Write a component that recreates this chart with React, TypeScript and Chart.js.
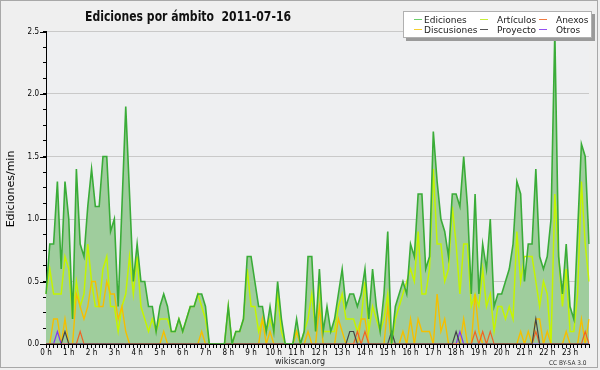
import React, { useEffect, useRef } from 'react';
import { Chart, registerables } from 'chart.js';

Chart.register(...registerables);

const TITLE = 'Ediciones por ámbito  2011-07-16';
const Y_TITLE = 'Ediciones/min';
const HOUR_LABELS = ['0 h','1 h','2 h','3 h','4 h','5 h','6 h','7 h','8 h','9 h','10 h','11 h','12 h','13 h','14 h','15 h','16 h','17 h','18 h','19 h','20 h','21 h','22 h','23 h'];
const SLOTS_PER_HOUR = 6;
const TIMES: string[] = [];
for (let h = 0; h < 24; h++) for (let m = 0; m < 60; m += 10) TIMES.push(`${String(h).padStart(2, '0')}:${String(m).padStart(2, '0')}`);

// 10-minute slots, edits per minute
const EDICIONES = [
  0.4,0.8,0.8,1.3,0.6,1.3,1.0,0.2,1.4,0.8,0.7,1.1,
  1.4,1.1,1.1,1.5,1.5,0.9,1.0,0.3,1.1,1.9,1.2,0.5,
  0.8,0.5,0.5,0.3,0.3,0.1,0.3,0.4,0.3,0.1,0.1,0.2,
  0.1,0.2,0.3,0.3,0.4,0.4,0.3,0,0,0,0,0,
  0.3,0,0.1,0.1,0.2,0.7,0.7,0.5,0.3,0.3,0.1,0.3,
  0.1,0.5,0.2,0,0,0,0.2,0,0.1,0.7,0.7,0.1,
  0.6,0.1,0.3,0.1,0.2,0.4,0.6,0.3,0.4,0.4,0.3,0.4,
  0.6,0.2,0.6,0.3,0.1,0.4,0.9,0,0.3,0.4,0.5,0.4,
  0.8,0.7,1.2,1.2,0.6,0.7,1.7,1.3,1.0,0.9,0.7,1.2,
  1.2,1.1,1.5,1.1,0.4,1.2,0.4,0.8,0.6,1.0,0.3,0.4,
  0.4,0.5,0.6,0.8,1.3,1.2,0.5,0.8,0.8,1.4,0.7,0.6,
  0.7,1.0,2.5,0.7,0.4,0.8,0.3,0.2,0.9,1.6,1.5,0.8,
];
const ARTICULOS = [
  0.4,0.6,0.4,0.4,0.4,0.7,0.6,0.2,0.5,0.3,0.4,0.8,
  0.5,0.3,0.3,0.6,0.7,0.3,0.3,0.1,0.3,0.4,0.7,0.4,
  0.7,0.3,0.2,0.1,0.2,0.1,0.2,0.2,0.2,0.1,0.1,0.2,
  0.1,0.2,0.3,0.3,0.4,0.3,0.2,0,0,0,0,0,
  0.3,0,0.1,0.1,0.2,0.6,0.3,0.3,0.1,0.2,0.1,0.2,
  0.1,0.4,0.1,0,0,0,0.1,0,0.1,0.2,0.4,0.1,
  0.5,0.1,0.1,0.1,0.1,0.3,0.4,0.2,0.2,0.2,0.1,0.2,
  0.5,0.1,0.3,0.2,0.1,0.2,0.4,0,0.2,0.3,0.4,0.5,
  0.6,0.5,0.9,0.4,0.4,0.6,1.4,0.8,0.8,0.5,0.6,1.1,
  0.8,0.4,0.8,0.8,0.3,0.4,0.3,0.6,0.3,0.4,0.1,0.3,
  0.3,0.2,0.3,0.2,0.9,0.5,0.7,0.7,0.7,0.5,0.3,0.5,
  0.4,0,1.2,0.7,0.3,0.6,0.1,0.1,0.4,1.3,0.8,0.5,
];
const DISCUSIONES = [
  0,0,0.2,0.2,0,0.2,0,0,0.4,0.3,0.2,0.3,
  0.5,0.5,0.3,0.3,0.5,0.4,0.4,0.2,0.3,0.1,0,0,
  0,0,0,0,0,0,0,0.1,0,0,0,0,
  0,0,0,0,0,0.1,0,0,0,0,0,0,
  0,0,0,0,0,0,0,0,0,0.2,0,0.1,
  0,0,0,0,0,0,0.1,0,0,0.1,0,0,
  0.3,0,0,0,0,0.2,0.1,0,0,0,0,0.2,
  0.2,0,0,0,0,0,0.3,0,0,0,0.1,0,
  0.2,0,0.2,0.1,0.1,0.1,0,0.4,0.1,0.2,0,0,
  0,0,0.2,0,0,0.4,0.1,0,0,0,0,0,
  0,0,0,0,0,0.1,0,0.1,0,0.2,0.2,0,
  0.1,0,0,0,0,0.1,0,0,0,0.2,0,0.2,
];
const ANEXOS = [
  0,0,0,0,0,0,0,0,0,0.1,0,0,
  0,0,0,0,0,0,0,0,0,0,0,0,
  0,0,0,0,0,0,0,0,0,0,0,0,
  0,0,0,0,0,0,0,0,0,0,0,0,
  0,0,0,0,0,0,0,0,0,0,0,0,
  0,0,0,0,0,0,0,0,0,0,0,0,
  0,0,0,0,0,0,0,0,0,0,0.1,0,
  0.1,0,0,0,0,0,0,0,0,0,0,0,
  0,0,0,0,0,0,0,0,0,0,0,0,
  0,0,0,0,0,0.1,0,0.1,0,0.1,0,0,
  0,0,0,0,0,0,0,0,0,0.1,0,0,
  0,0,0,0,0,0,0,0,0,0,0.1,0,
];
const PROYECTO = [
  0,0,0,0,0,0.1,0,0,0,0,0,0,
  0,0,0,0,0,0,0,0,0,0,0,0,
  0,0,0,0,0,0,0,0,0,0,0,0,
  0,0,0,0,0,0,0,0,0,0,0,0,
  0,0,0,0,0,0,0,0,0,0,0,0,
  0,0,0,0,0,0,0,0,0,0,0,0,
  0,0,0,0,0,0,0,0,0.1,0.1,0,0,
  0,0,0,0,0,0,0,0.1,0,0,0,0,
  0,0,0,0,0,0,0,0,0,0,0,0,
  0.1,0,0,0,0,0,0,0,0,0,0,0,
  0,0,0,0,0,0,0,0,0,0.2,0,0,
  0,0,0,0,0,0,0,0,0,0,0,0,
];
const OTROS = [
  0,0,0,0.1,0,0,0,0,0,0,0,0,
  0,0,0,0,0,0,0,0,0,0,0,0,
  0,0,0,0,0,0,0,0,0,0,0,0,
  0,0,0,0,0,0,0,0,0,0,0,0,
  0,0,0,0,0,0,0,0,0,0,0,0,
  0,0,0,0,0,0,0,0,0,0,0,0,
  0,0,0,0,0,0,0,0,0,0,0,0,
  0,0,0,0,0,0,0,0,0,0,0,0,
  0,0,0,0,0,0,0,0,0,0,0,0,
  0,0.1,0,0,0,0,0,0,0,0,0,0,
  0,0,0,0,0,0,0,0,0,0,0,0,
  0,0,0,0,0,0,0,0,0,0,0,0,
];

const Y_MAX = 2.5;
const Y_MAJOR = 0.5;
const Y_MINOR = 0.125;

const C_EDIC = '#3aac38';
const C_EDIC_FILL = '#9fcd9d';
const C_ART = '#c4f400';
const C_DISC = '#f5bf00';
const C_ANEX = '#f06424';
const C_PROY = '#444444';
const C_OTROS = '#8634f0';

const LEGEND = [
  { label: 'Ediciones', color: '#6ccf6c', col: 0, row: 0 },
  { label: 'Artículos', color: '#c6ee3a', col: 1, row: 0 },
  { label: 'Anexos', color: '#f07a40', col: 2, row: 0 },
  { label: 'Discusiones', color: '#f6cf30', col: 0, row: 1 },
  { label: 'Proyecto', color: '#555555', col: 1, row: 1 },
  { label: 'Otros', color: '#9450f0', col: 2, row: 1 },
];

function hasFont(name: string): boolean {
  const c = document.createElement('canvas').getContext('2d');
  if (!c) return false;
  c.font = '20px monospace';
  const a = c.measureText('Ediciones abcdefgh').width;
  c.font = `20px "${name}", monospace`;
  const b = c.measureText('Ediciones abcdefgh').width;
  return Math.abs(a - b) > 0.5;
}

export default function App() {
  const ref = useRef<HTMLCanvasElement | null>(null);

  useEffect(() => {
    document.body.style.margin = '0';
    const canvas = ref.current;
    if (!canvas) return;
    const cond = hasFont('DejaVu Sans Condensed');
    const fam = cond ? '"DejaVu Sans Condensed", "DejaVu Sans", sans-serif' : '"DejaVu Sans", sans-serif';
    const normal = '"DejaVu Sans", sans-serif';

    const deco = {
      id: 'deco',
      beforeDraw(chart: any) {
        const ctx = chart.ctx as CanvasRenderingContext2D;
        ctx.save();
        ctx.fillStyle = '#efefef';
        ctx.fillRect(0, 0, chart.width, chart.height);
        const a = chart.chartArea;
        ctx.fillStyle = '#eeeff1';
        ctx.fillRect(a.left, a.top, a.right - a.left, a.bottom - a.top);
        ctx.strokeStyle = '#a8a8a8';
        ctx.lineWidth = 1;
        ctx.strokeRect(0.5, 0.5, 597, 367);
        ctx.restore();
      },
      afterDraw(chart: any) {
        const ctx = chart.ctx as CanvasRenderingContext2D;
        const a = chart.chartArea;
        const ys = chart.scales.y;
        ctx.save();
        ctx.strokeStyle = '#000';
        ctx.lineWidth = 1;
        for (let v = 0; v <= Y_MAX + 1e-9; v += Y_MAJOR) {
          const y = Math.round(ys.getPixelForValue(v)) + 0.5;
          ctx.beginPath();
          ctx.moveTo(a.left - 6, y);
          ctx.lineTo(a.left, y);
          ctx.stroke();
        }
        ctx.fillStyle = '#111';
        ctx.textAlign = 'left';
        ctx.textBaseline = 'alphabetic';
        ctx.font = `bold 14px ${fam}`;
        ctx.fillText(TITLE, 85, 21, 206);
        ctx.save();
        ctx.translate(14, 189);
        ctx.rotate(-Math.PI / 2);
        ctx.textAlign = 'center';
        ctx.font = `11px ${normal}`;
        ctx.fillStyle = '#000';
        ctx.fillText(Y_TITLE, 0, 0, 80);
        ctx.restore();
        ctx.fillStyle = '#9a9a9a';
        ctx.fillRect(406, 14, 189, 27);
        ctx.fillStyle = '#ffffff';
        ctx.fillRect(403, 11, 189, 27);
        ctx.strokeStyle = '#b0b0b0';
        ctx.strokeRect(403.5, 11.5, 188, 26);
        const lineX = [414, 480, 539];
        const textX = [424, 497, 556];
        const rowY = [19.5, 29.5];
        ctx.font = `9px ${normal}`;
        ctx.textBaseline = 'alphabetic';
        for (const it of LEGEND) {
          const y = rowY[it.row];
          ctx.strokeStyle = it.color;
          ctx.beginPath();
          ctx.moveTo(lineX[it.col], y);
          ctx.lineTo(lineX[it.col] + 8, y);
          ctx.stroke();
          ctx.fillStyle = '#222';
          ctx.fillText(it.label, textX[it.col], y + 3.5);
        }
        ctx.fillStyle = '#222';
        ctx.textAlign = 'center';
        ctx.font = `9px ${fam}`;
        ctx.fillText('wikiscan.org', 300, 364, 50);
        ctx.textAlign = 'left';
        ctx.font = `6.5px ${fam}`;
        ctx.fillStyle = '#333';
        ctx.fillText('CC BY-SA 3.0', 549, 365, 41);
        ctx.restore();
      },
    };

    const mk = (label: string, data: number[], color: string, order: number, width = 1.4) => ({
      label, data, borderColor: color, backgroundColor: color, borderWidth: width,
      pointRadius: 0, tension: 0, fill: false, order, borderJoinStyle: 'miter',
    });

    const chart = new Chart(canvas, {
      type: 'line',
      data: {
        labels: TIMES,
        datasets: [
          { ...mk('Ediciones', EDICIONES, C_EDIC, 0, 1.6), fill: 'origin', backgroundColor: C_EDIC_FILL },
          mk('Proyecto', PROYECTO, C_PROY, 2, 1.2),
          mk('Anexos', ANEXOS, C_ANEX, 3, 1.2),
          mk('Otros', OTROS, C_OTROS, 4, 1.2),
          mk('Discusiones', DISCUSIONES, C_DISC, 5),
          mk('Artículos', ARTICULOS, C_ART, 6, 1.5),
        ] as any,
      },
      options: {
        responsive: false,
        animation: false,
        events: [],
        layout: { padding: { top: 31.5, right: 11, left: 0, bottom: 0 } },
        plugins: {
          legend: { display: false },
          title: { display: false },
          tooltip: { enabled: false },
          filler: { drawTime: 'beforeDatasetsDraw' },
        } as any,
        scales: {
          x: {
            type: 'category',
            offset: false,
            grid: { display: true, drawOnChartArea: false, drawTicks: true, tickLength: 4, color: '#000', offset: false },
            border: { display: true, color: '#000', width: 1 },
            ticks: {
              autoSkip: false, maxRotation: 0, minRotation: 0, padding: 0, color: '#000',
              font: { family: fam, size: 8 },
              callback: (_v: any, i: number) => (i % SLOTS_PER_HOUR === 0 ? HOUR_LABELS[i / SLOTS_PER_HOUR] : ''),
            },
            afterFit: (s: any) => { s.height = 26; },
          },
          y: {
            min: 0, max: Y_MAX,
            grid: {
              drawTicks: true, tickLength: 3, tickColor: '#000',
              color: (c: any) => (c.tick && c.tick.value > 0 && Math.abs((c.tick.value / Y_MAJOR) - Math.round(c.tick.value / Y_MAJOR)) < 1e-9 ? '#c9c9c9' : 'rgba(0,0,0,0)'),
            },
            border: { display: true, color: '#000', width: 1 },
            ticks: {
              stepSize: Y_MINOR, autoSkip: false, maxTicksLimit: 100, padding: 4, color: '#000',
              font: { family: fam, size: 8 },
              callback: (v: any) => (Math.abs(v / Y_MAJOR - Math.round(v / Y_MAJOR)) < 1e-9 ? Number(v).toFixed(1) : ''),
            },
            afterFit: (s: any) => { s.width = 46; },
          },
        },
      } as any,
      plugins: [deco],
    });
    return () => chart.destroy();
  }, []);

  return (
    <div style={{ width: 600, height: 370, position: 'relative' }}>
      <canvas ref={ref} width={600} height={370} style={{ display: 'block' }} />
    </div>
  );
}
